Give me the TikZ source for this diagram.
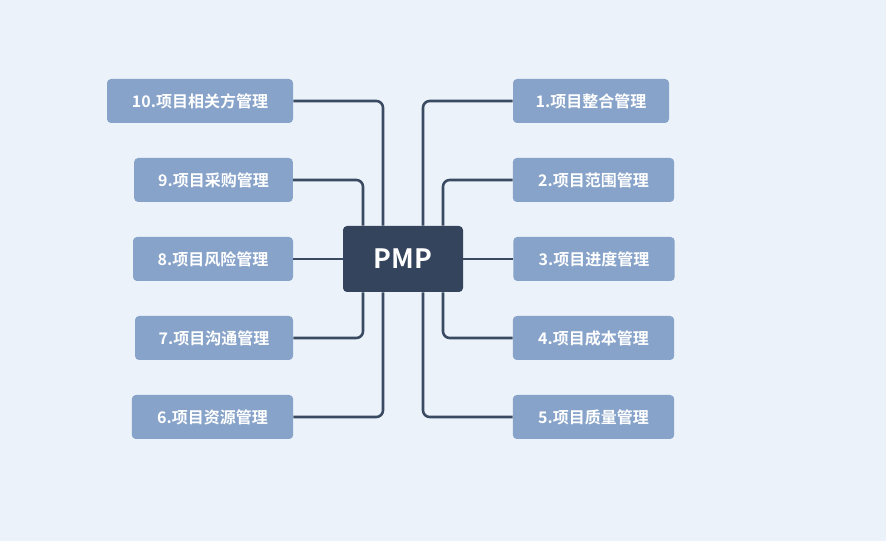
\documentclass[tikz,border=0pt]{standalone}
\usepackage{fontspec}
\newfontfamily\cjk{Noto Sans CJK SC}[BoldFont=* Bold]
\usetikzlibrary{calc}
\definecolor{bg}{HTML}{EBF2F9}
\definecolor{dark}{HTML}{34445C}
\definecolor{leaf}{HTML}{87A3C9}
\definecolor{wire}{HTML}{3A4A62}
\begin{document}
\begin{tikzpicture}[x=0.75pt,y=-0.75pt,
  leafbox/.style={fill=leaf,rounded corners=3pt,text=white,font=\cjk\bfseries\fontsize{12}{14}\selectfont,minimum height=33pt,inner sep=0pt},
  wirel/.style={draw=wire,line width=1.9pt,rounded corners=5pt}]
\fill[bg] (0,0) rectangle (886,541);
\useasboundingbox (0,0) rectangle (886,541);
\node[fill=dark,rounded corners=3pt,text=white,font=\cjk\bfseries\fontsize{20}{24}\selectfont,minimum width=90pt,minimum height=49.5pt,inner sep=0pt] (pmp) at (403,259) {PMP};
\node[leafbox,minimum width=117pt] (n1) at (591,101) {1.项目整合管理};
\node[leafbox,minimum width=121pt] (n2) at (593.5,180) {2.项目范围管理};
\node[leafbox,minimum width=121pt] (n3) at (594,259) {3.项目进度管理};
\node[leafbox,minimum width=121pt] (n4) at (593.5,338) {4.项目成本管理};
\node[leafbox,minimum width=121pt] (n5) at (593.5,417) {5.项目质量管理};
\node[leafbox,minimum width=121pt] (n6) at (212.5,417) {6.项目资源管理};
\node[leafbox,minimum width=118.5pt] (n7) at (214,338) {7.项目沟通管理};
\node[leafbox,minimum width=120pt] (n8) at (213,259) {8.项目风险管理};
\node[leafbox,minimum width=119pt] (n9) at (213.5,180) {9.项目采购管理};
\node[leafbox,minimum width=139.5pt] (n10) at (200,101) {10.项目相关方管理};
\path (pmp.north) ++(20,0) coordinate (tr1) ++(20,0) coordinate (tr2);
\path (pmp.north) ++(-20,0) coordinate (tl1) ++(-20,0) coordinate (tl2);
\path (pmp.south) ++(20,0) coordinate (br1) ++(20,0) coordinate (br2);
\path (pmp.south) ++(-20,0) coordinate (bl1) ++(-20,0) coordinate (bl2);
\draw[wirel] (n1.west) -| (tr1);
\draw[wirel] (n2.west) -| (tr2);
\draw[wirel] (n3.west) -- (pmp.east);
\draw[wirel] (n4.west) -| (br2);
\draw[wirel] (n5.west) -| (br1);
\draw[wirel] (n10.east) -| (tl1);
\draw[wirel] (n9.east) -| (tl2);
\draw[wirel] (n8.east) -- (pmp.west);
\draw[wirel] (n7.east) -| (bl2);
\draw[wirel] (n6.east) -| (bl1);
\end{tikzpicture}
\end{document}
